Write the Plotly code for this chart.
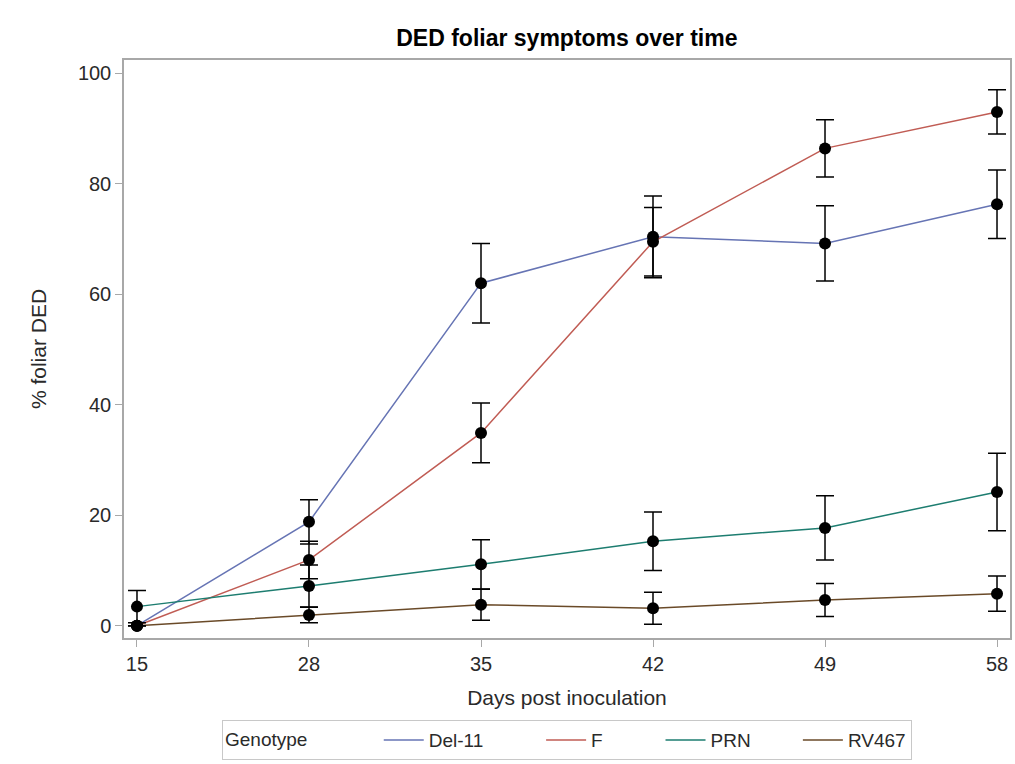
import plotly.graph_objects as go

# Days post inoculation (treated as discrete categories)
days = ["15", "28", "35", "42", "49", "58"]

genotypes = ["Del-11", "F", "PRN", "RV467"]

# Mean % foliar DED per genotype
del11_mean = [0.0, 18.8, 62.0, 70.4, 69.2, 76.3]
f_mean = [0.0, 11.9, 34.9, 69.5, 86.4, 93.0]
prn_mean = [3.45, 7.2, 11.1, 15.3, 17.7, 24.2]
rv467_mean = [0.0, 1.95, 3.8, 3.15, 4.65, 5.8]

# Standard errors (symmetric error bars)
del11_err = [0.0, 4.0, 7.2, 7.4, 6.8, 6.2]
f_err = [0.0, 3.4, 5.4, 6.2, 5.2, 4.0]
prn_err = [2.9, 3.8, 4.45, 5.3, 5.8, 7.0]
rv467_err = [0.0, 1.4, 2.8, 2.9, 3.0, 3.2]

line_colors = ["#6674b4", "#c05c54", "#1d7d70", "#6a4a28"]

means = [del11_mean, f_mean, prn_mean, rv467_mean]
errs = [del11_err, f_err, prn_err, rv467_err]

# trailing padding (in spaces) after each legend label
legend_pad = [10, 10, 8, 0]

FONT = "Liberation Sans, Arial, sans-serif"
TEXT = "#2a2a2a"

fig = go.Figure()

# Connecting lines (these carry the legend entries)
for name, m, c, pad in zip(genotypes, means, line_colors, legend_pad):
    fig.add_trace(go.Scatter(
        x=days, y=m, mode="lines", name=name + "&nbsp;" * pad,
        line=dict(color=c, width=1.5),
    ))

# Mean markers with error bars on top of the lines
for name, m, e in zip(genotypes, means, errs):
    fig.add_trace(go.Scatter(
        x=days, y=m, mode="markers", name=name, showlegend=False,
        marker=dict(color="black", size=12),
        error_y=dict(type="data", array=e, visible=True,
                     color="black", thickness=1.5, width=9),
    ))

fig.update_layout(
    width=1015, height=764,
    paper_bgcolor="white", plot_bgcolor="white",
    margin=dict(l=124, r=5, t=60, b=126, autoexpand=False),
    font=dict(family=FONT, color=TEXT),
    title=dict(text="<b>DED foliar symptoms over time</b>",
               x=0.5585, xanchor="center", y=0.95, yanchor="middle",
               font=dict(size=23, color="black", family=FONT)),
    showlegend=True,
    legend=dict(
        orientation="h", x=0.5, xanchor="center", y=-0.142, yanchor="top",
        bordercolor="#c8c8c8", borderwidth=1, bgcolor="white",
        font=dict(size=19, color=TEXT, family=FONT),
        title=dict(text="Genotype" + "&nbsp;" * 12, side="left",
                   font=dict(size=19, color=TEXT, family=FONT)),
        itemwidth=40, tracegroupgap=0,
    ),
)

fig.update_xaxes(
    type="category", categoryorder="array", categoryarray=days,
    range=[-0.0755, 5.0755],
    showgrid=False, zeroline=False,
    showline=True, linecolor="#a8a8a8", linewidth=1.5, mirror=True,
    ticks="outside", ticklen=7, tickcolor="#a8a8a8", tickwidth=1,
    tickfont=dict(size=20, color=TEXT, family=FONT),
    title=dict(text="Days post inoculation", standoff=17,
               font=dict(size=21, color=TEXT, family=FONT)),
)

fig.update_yaxes(
    range=[-2.23, 102.4],
    tickvals=[0, 20, 40, 60, 80, 100],
    showgrid=False, zeroline=False,
    showline=True, linecolor="#a8a8a8", linewidth=1.5, mirror=True,
    ticks="outside", ticklen=7, tickcolor="#a8a8a8", tickwidth=1,
    tickfont=dict(size=20, color=TEXT, family=FONT),
    title=dict(text="% foliar DED", standoff=26,
               font=dict(size=21, color=TEXT, family=FONT)),
)

fig.write_html("out.html")
